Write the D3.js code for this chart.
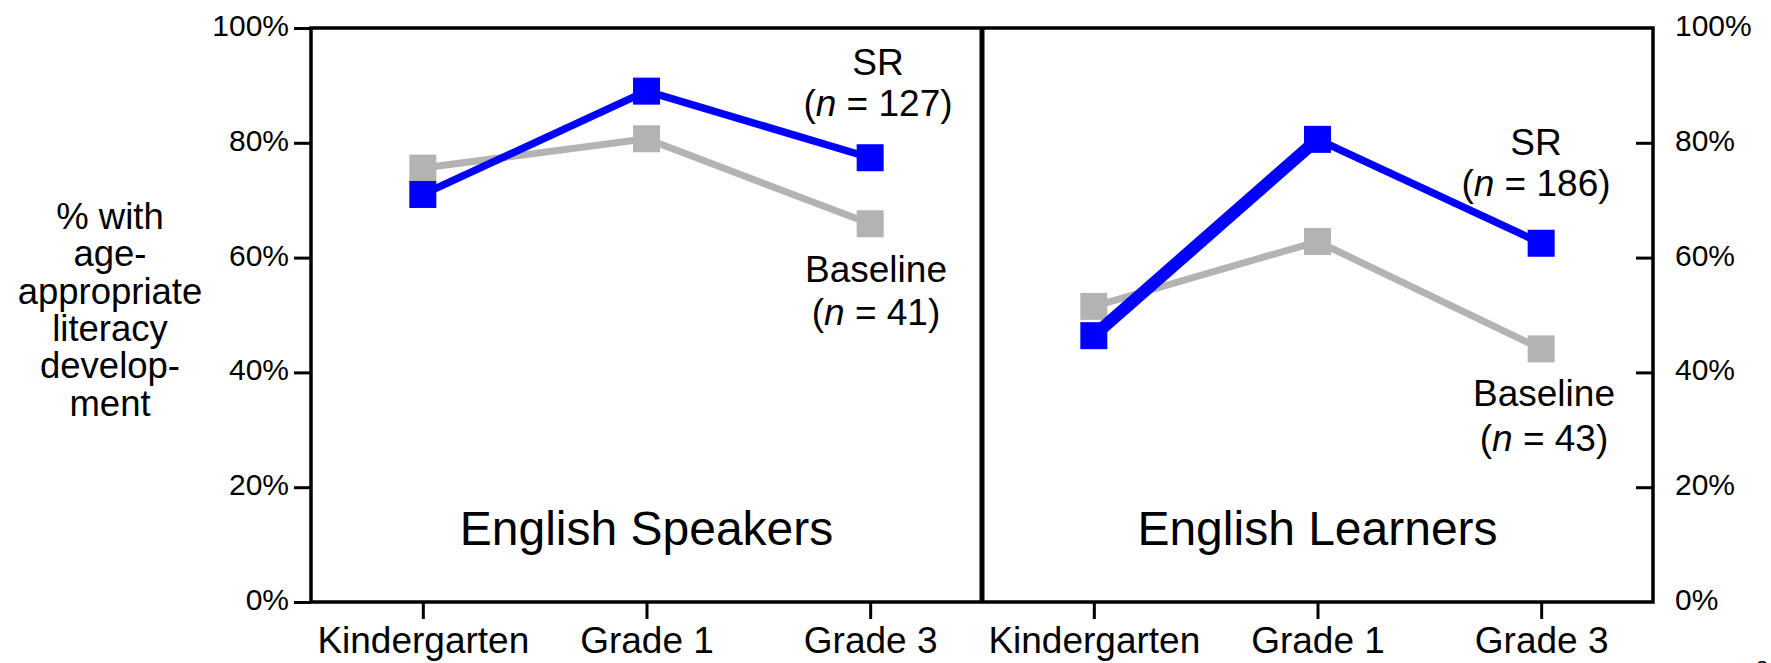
<!DOCTYPE html>
<html>
<head>
<meta charset="utf-8">
<script src="https://cdnjs.cloudflare.com/ajax/libs/d3/7.8.5/d3.min.js"></script>
<style>
  body { margin: 0; background: #fff; }
  svg text { font-family: "Liberation Sans", Arial, Helvetica, sans-serif; fill: #000; }
  .tick line { stroke: #000; stroke-width: 3; }
</style>
</head>
<body>
<svg id="chart" width="1771" height="663"></svg>
<script>
// data
var grades = ["Kindergarten", "Grade 1", "Grade 3"];
var panelTitles = ["English Speakers", "English Learners"];
var yTicks = [0, 20, 40, 60, 80, 100];
var srSpeakers = [71.0, 89.0, 77.4];
var baselineSpeakers = [75.6, 80.7, 65.9];
var srLearners = [46.4, 80.6, 62.5];
var baselineLearners = [51.5, 62.8, 44.1];
var srN = [127, 186];
var baselineN = [41, 43];
var yTitle = ["% with", "age-", "appropriate", "literacy", "develop-", "ment"];

var BLUE = "#0000ff", GRAY = "#b3b3b3";
var plotTop = 28, plotBottom = 602, plotLeft = 311, plotRight = 1653, plotMid = 982;

var svg = d3.select("#chart");

var y = d3.scaleLinear().domain([0, 100]).range([plotBottom, plotTop]);

var panels = [
  { x0: plotLeft, x1: plotMid, title: panelTitles[0], sr: srSpeakers, base: baselineSpeakers,
    srN: srN[0], baseN: baselineN[0], srWidths: [7.5, 7.5],
    srLabel: [878, 75, 116], baseLabel: [876, 282, 325] },
  { x0: plotMid, x1: plotRight, title: panelTitles[1], sr: srLearners, base: baselineLearners,
    srN: srN[1], baseN: baselineN[1], srWidths: [12.5, 7.5],
    srLabel: [1536, 155, 196], baseLabel: [1544, 406, 451] }
];

// y axes
svg.append("g").attr("transform", "translate(" + plotLeft + ",0)")
  .call(d3.axisLeft(y).tickValues(yTicks).tickSize(17).tickPadding(5).tickFormat(function(d) { return d + "%"; }))
  .call(function(g) { g.select(".domain").remove(); })
  .selectAll("text").attr("font-size", 30).attr("dy", "0.25em");

svg.append("g").attr("transform", "translate(" + plotRight + ",0)")
  .call(d3.axisRight(y).tickValues(yTicks).tickSize(-17).tickPadding(22).tickFormat(function(d) { return d + "%"; }))
  .call(function(g) { g.select(".domain").remove(); g.selectAll(".tick").filter(function(d) { return d === 0 || d === 100; }).select("line").remove(); })
  .selectAll("text").attr("font-size", 30).attr("dy", "0.25em");

// y axis title
svg.append("text").attr("x", 110).attr("y", 229).attr("text-anchor", "middle").attr("font-size", 36.5)
  .selectAll("tspan").data(yTitle).enter().append("tspan")
  .attr("x", 110).attr("dy", function(d, i) { return i === 0 ? 0 : 37.3; })
  .text(String);

panels.forEach(function(p) {
  var x = d3.scalePoint().domain(grades).range([p.x0, p.x1]).padding(0.5);

  svg.append("g").attr("transform", "translate(0," + plotBottom + ")")
    .call(d3.axisBottom(x).tickSize(17).tickPadding(8))
    .call(function(g) { g.select(".domain").remove(); })
    .selectAll("text").attr("font-size", 37);

  svg.append("text").attr("x", x("Grade 1")).attr("y", 545).attr("text-anchor", "middle")
    .attr("font-size", 48).text(p.title);

  var drawSeries = function(vals, color, widths) {
    var pts = vals.map(function(v, i) { return [x(grades[i]), y(v)]; });
    svg.append("g").selectAll("line").data(d3.pairs(pts)).enter().append("line")
      .attr("x1", function(d) { return d[0][0]; }).attr("y1", function(d) { return d[0][1]; })
      .attr("x2", function(d) { return d[1][0]; }).attr("y2", function(d) { return d[1][1]; })
      .attr("stroke", color).attr("stroke-width", function(d, i) { return widths[i]; })
      .attr("stroke-linecap", "round");
    svg.append("g").selectAll("rect").data(pts).enter().append("rect")
      .attr("x", function(d) { return d[0] - 13.5; }).attr("y", function(d) { return d[1] - 13.5; })
      .attr("width", 27).attr("height", 27).attr("fill", color);
  };
  drawSeries(p.base, GRAY, [7, 7]);
  drawSeries(p.sr, BLUE, p.srWidths);

  var lab = function(pos, name, n) {
    svg.append("text").attr("x", pos[0]).attr("y", pos[1]).attr("text-anchor", "middle")
      .attr("font-size", 37).text(name);
    var t = svg.append("text").attr("x", pos[0]).attr("y", pos[2]).attr("text-anchor", "middle")
      .attr("font-size", 37);
    t.append("tspan").text("(");
    t.append("tspan").attr("font-style", "italic").text("n");
    t.append("tspan").text(" = " + n + ")");
  };
  lab(p.srLabel, "SR", p.srN);
  lab(p.baseLabel, "Baseline", p.baseN);
});

// frame
svg.append("rect").attr("x", plotLeft).attr("y", plotTop).attr("width", plotRight - plotLeft).attr("height", plotBottom - plotTop)
  .attr("fill", "none").attr("stroke", "#000").attr("stroke-width", 3.5);
svg.append("line").attr("x1", plotMid).attr("x2", plotMid).attr("y1", plotTop).attr("y2", plotBottom)
  .attr("stroke", "#000").attr("stroke-width", 5);

// page number, cut off at the edge
svg.append("text").attr("x", 1762).attr("y", 676).attr("text-anchor", "middle").attr("font-size", 22).text("8");
</script>
</body>
</html>
